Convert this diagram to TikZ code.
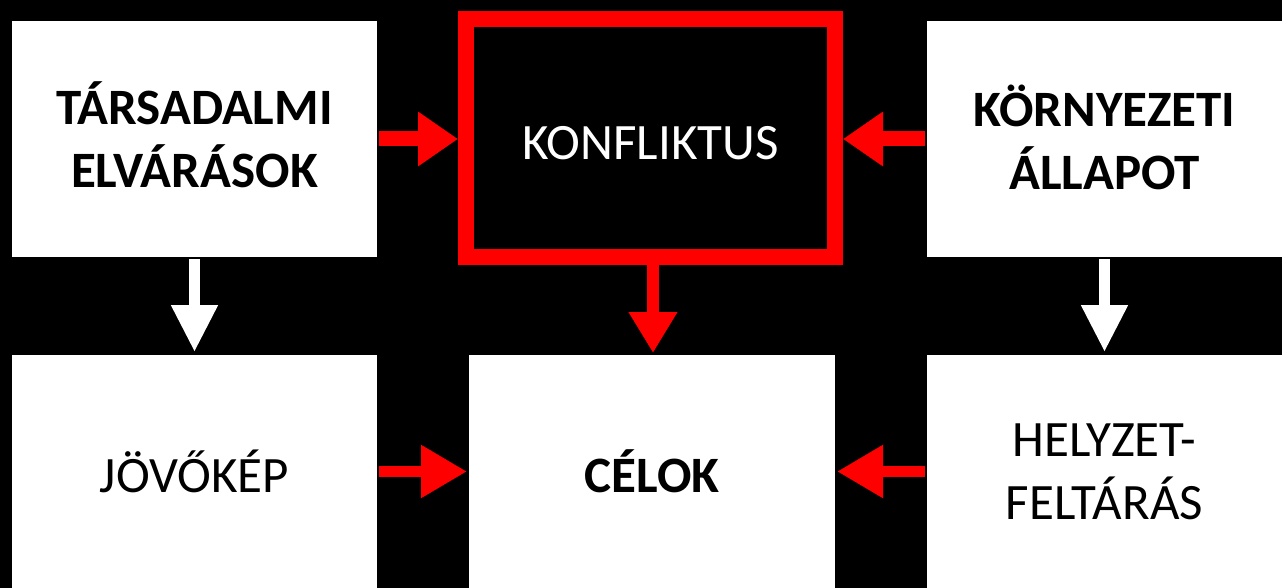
\documentclass[tikz,border=0pt]{standalone}
\usepackage{fontspec}
\setmainfont{Carlito}
\usetikzlibrary{arrows.meta,calc}
\definecolor{arrred}{RGB}{255,0,0}
\newcommand{\shiftline}[2]{\raisebox{#1}[\height][\depth]{#2}}
\tikzset{
  box/.style={fill=white, inner sep=0pt, outer sep=0pt, align=center,
    font=\fontsize{51}{63}\selectfont, text=black},
  redbox/.style={draw=arrred, line width=16pt, fill=black, inner sep=0pt, align=center,
    font=\fontsize{51}{63}\selectfont, text=white},
  redarr/.style={draw=arrred, line width=15pt, -{Triangle[width=52pt,length=40pt]}},
  redarrlow/.style={draw=arrred, line width=11.5pt, -{Triangle[width=50pt,length=46pt]}},
  redarrdown/.style={draw=arrred, line width=12pt, -{Triangle[width=46pt,length=41pt]}},
  whitearr/.style={draw=white, line width=11pt, -{Triangle[width=44pt,length=47pt]}}
}
\begin{document}
\begin{tikzpicture}[x=1pt,y=-1pt]
\fill[black] (0,0) rectangle (1282,588);
\useasboundingbox (0,0) rectangle (1282,588);
\node[box, minimum width=365pt, minimum height=236pt] (tl) at (194.5,139) {\shiftline{4pt}{\bfseries TÁRSADALMI}\\\shiftline{4pt}{\bfseries ELVÁRÁSOK}};
\node[redbox, minimum width=369pt, minimum height=238pt] (tc) at (650.5,138) {\shiftline{-5pt}{KONFLIKTUS}};
\node[box, minimum width=355pt, minimum height=236pt] (tr) at (1104.5,139) {\shiftline{2pt}{\bfseries KÖRNYEZETI}\\\shiftline{2pt}{\bfseries ÁLLAPOT}};
\node[box, minimum width=365pt, minimum height=233pt] (bl) at (194.5,471.5) {JÖVŐKÉP};
\node[box, minimum width=366pt, minimum height=233pt] (bc) at (652,471.5) {\bfseries CÉLOK};
\node[box, minimum width=355pt, minimum height=233pt] (br) at (1104.5,471.5) {HELYZET-\\FELTÁRÁS};
\draw[redarr] ($(tl.east)+(2,0)$) -- (tc.west |- tl.east);
\draw[redarr] ($(tr.west)+(-2,0)$) -- (tc.east |- tr.west);
\draw[redarrdown] ($(tc.south)+(2.5,0)$) -- ($(tc.south |- bc.north)+(2.5,-2)$);
\draw[redarrlow] ($(bl.east)+(2,0)$) -- ($(bc.west)+(-2,0)$);
\draw[redarrlow] ($(br.west)+(-2,0)$) -- ($(bc.east)+(2,0)$);
\draw[whitearr] ($(tl.south)+(0,2)$) -- ($(bl.north)+(0,-3)$);
\draw[whitearr] ($(tr.south)+(0,2)$) -- ($(br.north)+(0,-3)$);
\end{tikzpicture}
\end{document}
